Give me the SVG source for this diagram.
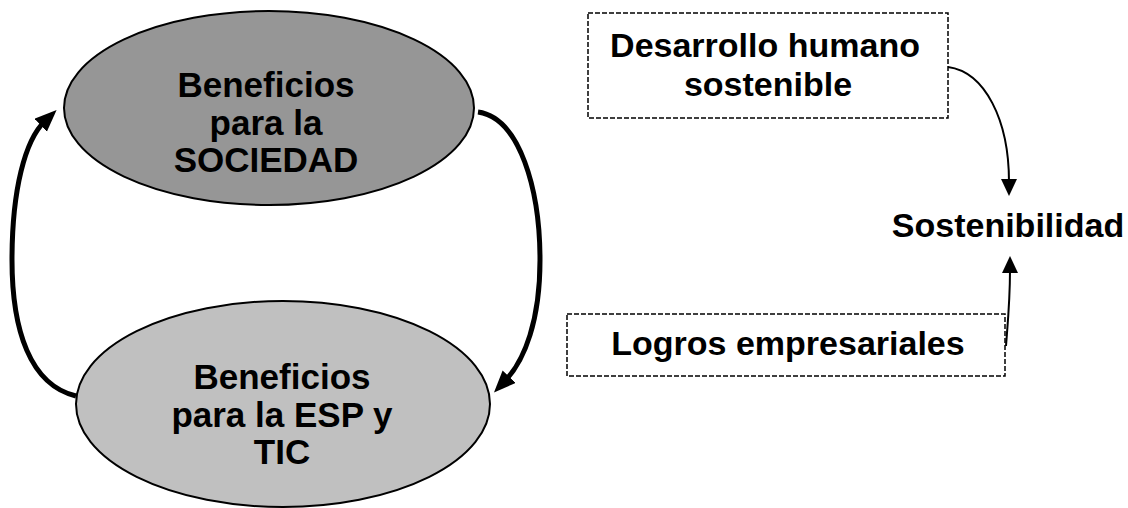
<svg xmlns="http://www.w3.org/2000/svg" width="1128" height="508" viewBox="0 0 1128 508">
<style>
.t{font-family:"Liberation Sans",Arial,sans-serif;font-weight:bold;font-size:34px;fill:#000;text-anchor:middle}
.e{font-size:35px}
.box{fill:#fff;stroke:#000;stroke-width:1.5;stroke-dasharray:5 2}
.thick{fill:none;stroke:#000;stroke-width:5}
.thin{fill:none;stroke:#000;stroke-width:2}
</style>
<defs>
<marker id="ah" markerUnits="userSpaceOnUse" markerWidth="24" markerHeight="20" refX="6" refY="9" orient="auto">
<path d="M0,0 L22,9 L0,18 Z" fill="#000"/>
</marker>
<marker id="as" markerUnits="userSpaceOnUse" markerWidth="18" markerHeight="18" refX="3" refY="8" orient="auto">
<path d="M0,0 L17,8 L0,16 Z" fill="#000"/>
</marker>
</defs>
<rect width="1128" height="508" fill="#fff"/>
<g id="connectors">
<path class="thick" d="M76,396 C30,385 12,330 12,260 C12,190 25,140 45,121" marker-end="url(#ah)"/>
<path class="thick" d="M478,112 C520,118 540,190 540,260 C540,320 525,360 505,381" marker-end="url(#ah)"/>
<path class="thin" d="M948,67 C985,72 1009,120 1009,182" marker-end="url(#as)"/>
<path class="thin" d="M1006,346 C1008,320 1010,300 1010,270" marker-end="url(#as)"/>
</g>
<g id="sociedad">
<ellipse cx="269" cy="108" rx="205" ry="97" fill="#969696" stroke="#000" stroke-width="2"/>
<text class="t e" x="266" y="97">Beneficios</text>
<text class="t e" x="266" y="135">para la</text>
<text class="t e" x="266" y="172">SOCIEDAD</text>
</g>
<g id="esp">
<ellipse cx="283" cy="404" rx="207" ry="103" fill="#c0c0c0" stroke="#000" stroke-width="2"/>
<text class="t e" x="282" y="389">Beneficios</text>
<text class="t e" x="282" y="427">para la ESP y</text>
<text class="t e" x="282" y="464">TIC</text>
</g>
<g id="desarrollo">
<rect class="box" x="588" y="13" width="360" height="105"/>
<text class="t" x="765" y="57">Desarrollo humano</text>
<text class="t" x="768" y="96">sostenible</text>
</g>
<g id="sostenibilidad">
<text class="t" x="1008" y="237">Sostenibilidad</text>
</g>
<g id="logros">
<rect class="box" x="567" y="314" width="438" height="62"/>
<text class="t" x="788" y="355">Logros empresariales</text>
</g>
</svg>
